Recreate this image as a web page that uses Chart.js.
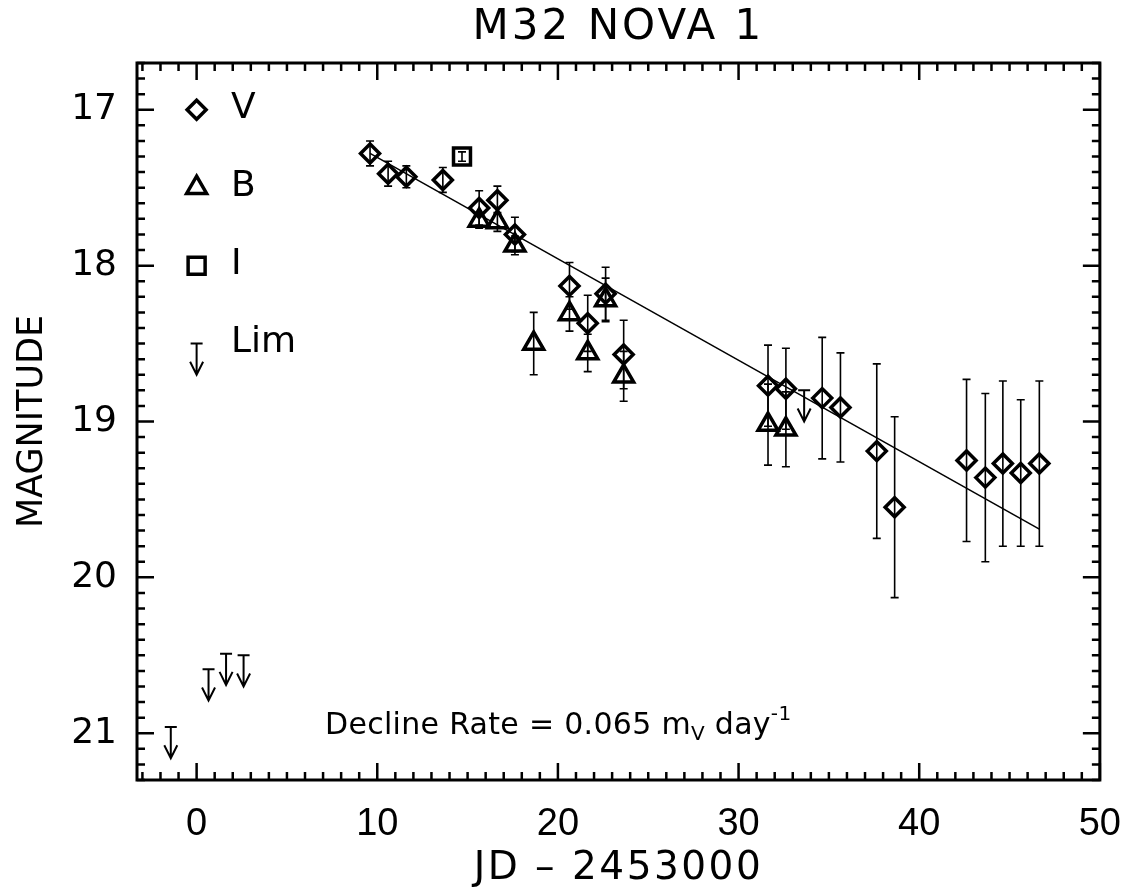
<!DOCTYPE html>
<html>
<head>
<meta charset="utf-8">
<title>M32 NOVA 1</title>
<script src="https://cdn.jsdelivr.net/npm/chart.js@4.4.1/dist/chart.umd.min.js"></script>
<style>
  html, body { margin: 0; padding: 0; background: #fff; }
</style>
</head>
<body>
<canvas id="chart" width="1143" height="894"></canvas>
<script>
// light curve values (JD - 2453000, magnitude, 1-sigma)
const vDays = [9.60, 10.60, 11.61, 13.63, 15.64, 16.65, 17.62, 20.64, 21.65, 22.64, 23.64,
               31.63, 32.62, 34.63, 35.64, 37.65, 38.64, 42.62, 43.66, 44.63, 45.62, 46.65];
const vMag  = [17.28, 17.41, 17.43, 17.45, 17.63, 17.58, 17.80, 18.13, 18.37, 18.18, 18.57,
               18.77, 18.79, 18.85, 18.91, 19.19, 19.55, 19.25, 19.36, 19.27, 19.33, 19.27];
const vErr  = [0.08, 0.08, 0.07, 0.08, 0.11, 0.09, 0.11, 0.15, 0.18, 0.17, 0.22,
               0.26, 0.26, 0.39, 0.35, 0.56, 0.58, 0.52, 0.54, 0.53, 0.47, 0.53];

const bDays = [15.64, 16.65, 17.62, 18.66, 20.64, 21.65, 22.64, 23.64, 31.63, 32.62];
const bMag  = [17.71, 17.72, 17.87, 18.50, 18.31, 18.56, 18.22, 18.71, 19.02, 19.05];
const bErr  = [0.05, 0.06, 0.06, 0.20, 0.11, 0.12, 0.14, 0.16, 0.26, 0.24];

const iDays = [14.69];
const iMag  = [17.30];
const iErr  = [0.03];

// upper limits (fainter than)
const limDays = [-1.43, 0.66, 1.63, 2.60, 33.63];
const limMag  = [20.96, 20.59, 20.49, 20.50, 18.80];

// linear fit, 0.065 mag/day
const fitDays = [9.60, 46.65];
const fitMag  = [17.28, 19.69];

const xTicks = [0, 10, 20, 30, 40, 50];
const yTicks = [17, 18, 19, 20, 21];
const legendLabels = ['V', 'B', 'I', 'Lim'];

const FONT = '"DejaVu Sans", sans-serif';
const LIM_LEN = 0.2;

const pts = (xs, ys) => xs.map((x, i) => ({ x, y: ys[i] }));

function diamond(ctx, x, y, r) {
    ctx.beginPath();
    ctx.moveTo(x, y - r); ctx.lineTo(x + r, y); ctx.lineTo(x, y + r); ctx.lineTo(x - r, y);
    ctx.closePath(); ctx.stroke();
}
function triangle(ctx, x, y, r) {
    const h = r * Math.sqrt(3) / 2;
    ctx.beginPath();
    ctx.moveTo(x, y - r); ctx.lineTo(x + h, y + r / 2); ctx.lineTo(x - h, y + r / 2);
    ctx.closePath(); ctx.stroke();
}
function square(ctx, x, y, r) {
    ctx.beginPath(); ctx.rect(x - r, y - r, 2 * r, 2 * r); ctx.stroke();
}
function arrow(ctx, chart, xv, yv) {
    const x = chart.scales.x.getPixelForValue(xv);
    const y0 = chart.scales.y.getPixelForValue(yv);
    const y1 = chart.scales.y.getPixelForValue(yv + LIM_LEN);
    ctx.beginPath();
    ctx.moveTo(x - 6, y0); ctx.lineTo(x + 6, y0);
    ctx.moveTo(x, y0); ctx.lineTo(x, y1);
    ctx.moveTo(x - 6.5, y1 - 13); ctx.lineTo(x, y1); ctx.lineTo(x + 6.5, y1 - 13);
    ctx.stroke();
}

const errorBars = {
    id: 'errorBars',
    beforeDatasetsDraw(chart) {
        const { ctx, scales: { x, y } } = chart;
        ctx.save();
        ctx.strokeStyle = '#000';
        ctx.lineWidth = 1.6;
        chart.data.datasets.forEach(ds => {
            if (!ds.errors) return;
            ds.data.forEach((p, j) => {
                const px = x.getPixelForValue(p.x);
                const t = y.getPixelForValue(p.y - ds.errors[j]);
                const b = y.getPixelForValue(p.y + ds.errors[j]);
                ctx.beginPath();
                ctx.moveTo(px, t); ctx.lineTo(px, b);
                ctx.moveTo(px - 4, t); ctx.lineTo(px + 4, t);
                ctx.moveTo(px - 4, b); ctx.lineTo(px + 4, b);
                ctx.stroke();
            });
        });
        ctx.restore();
    },
    afterDatasetsDraw(chart) {
        const ctx = chart.ctx;
        ctx.save();
        ctx.strokeStyle = '#000';
        ctx.lineWidth = 2;
        limDays.forEach((d, i) => arrow(ctx, chart, d, limMag[i]));
        ctx.restore();
    }
};

const frame = {
    id: 'frame',
    afterDraw(chart) {
        const { ctx, chartArea: a, scales: { x, y } } = chart;
        ctx.save();
        ctx.strokeStyle = '#000';
        ctx.lineWidth = 2.5;
        ctx.beginPath();
        for (let v = Math.ceil(x.min); v <= x.max; v++) {
            const len = v % 10 === 0 ? 17 : 8;
            const px = x.getPixelForValue(v);
            ctx.moveTo(px, a.bottom); ctx.lineTo(px, a.bottom - len);
            ctx.moveTo(px, a.top); ctx.lineTo(px, a.top + len);
        }
        for (let k = Math.ceil(y.min * 10 - 1e-6); k <= y.max * 10 + 1e-6; k++) {
            const len = k % 10 === 0 ? 17 : 8;
            const py = y.getPixelForValue(k / 10);
            ctx.moveTo(a.left, py); ctx.lineTo(a.left + len, py);
            ctx.moveTo(a.right, py); ctx.lineTo(a.right - len, py);
        }
        ctx.stroke();
        ctx.lineWidth = 3;
        ctx.strokeRect(a.left, a.top, a.right - a.left, a.bottom - a.top);
        ctx.restore();
    }
};

const texts = {
    id: 'texts',
    afterDraw(chart) {
        const { ctx, chartArea: a, scales: { x, y } } = chart;
        const cx = (a.left + a.right) / 2;
        ctx.save();
        ctx.fillStyle = '#000';
        ctx.textBaseline = 'alphabetic';

        // title
        ctx.font = `42px ${FONT}`;
        ctx.letterSpacing = '3px';
        ctx.textAlign = 'center';
        ctx.fillText('M32 NOVA 1', cx, 39);

        // x axis title
        ctx.font = `39px ${FONT}`;
        ctx.letterSpacing = '2.5px';
        ctx.fillText('JD \u2013 2453000', cx, 879);

        // y axis title
        ctx.save();
        ctx.translate(42, (a.top + a.bottom) / 2);
        ctx.rotate(-Math.PI / 2);
        ctx.font = `35px ${FONT}`;
        ctx.letterSpacing = '0px';
        ctx.fillText('MAGNITUDE', 0, 0);
        ctx.restore();

        // legend
        ctx.strokeStyle = '#000';
        const lx = x.getPixelForValue(0);
        legendLabels.forEach((lab, i) => {
            const mag = yTicks[0] + 0.5 * i;
            const ly = y.getPixelForValue(mag);
            ctx.lineWidth = 3.5;
            if (lab === 'V') diamond(ctx, lx, ly, 9.5);
            if (lab === 'B') triangle(ctx, lx, ly, 11.5);
            if (lab === 'I') square(ctx, lx, ly, 8.5);
            if (lab === 'Lim') { ctx.lineWidth = 2; arrow(ctx, chart, 0, mag); }
            ctx.font = `36px ${FONT}`;
            ctx.letterSpacing = '0px';
            ctx.textAlign = 'left';
            ctx.fillText(lab, x.getPixelForValue(1.9), ly + 8);
        });

        // decline rate note
        let tx = 325;
        const base = 734;
        ctx.textAlign = 'left';
        ctx.letterSpacing = '0.3px';
        const part = (s, size, dy) => {
            ctx.font = `${size}px ${FONT}`;
            ctx.fillText(s, tx, base + dy);
            tx += ctx.measureText(s).width;
        };
        part('Decline Rate = 0.065 m', 30, 0);
        part('V', 20, 6);
        part(' day', 30, 0);
        part('-1', 20, -14);
        ctx.restore();
    }
};

new Chart(document.getElementById('chart'), {
    type: 'scatter',
    data: {
        datasets: [
            {
                label: 'fit', type: 'line', data: pts(fitDays, fitMag),
                borderColor: '#000', borderWidth: 1.5, pointRadius: 0, fill: false
            },
            {
                label: 'V', data: pts(vDays, vMag), errors: vErr,
                pointStyle: 'rectRot', pointRadius: 9.5, borderWidth: 3.5,
                borderColor: '#000', backgroundColor: 'rgba(0,0,0,0)'
            },
            {
                label: 'B', data: pts(bDays, bMag), errors: bErr,
                pointStyle: 'triangle', pointRadius: 11.5, borderWidth: 3.5,
                borderColor: '#000', backgroundColor: 'rgba(0,0,0,0)'
            },
            {
                label: 'I', data: pts(iDays, iMag), errors: iErr,
                pointStyle: 'rect', pointRadius: 12, borderWidth: 3.5,
                borderColor: '#000', backgroundColor: 'rgba(0,0,0,0)'
            },
            {
                label: 'Lim', data: pts(limDays, limMag), pointRadius: 0
            }
        ]
    },
    options: {
        responsive: false,
        animation: false,
        events: [],
        layout: { padding: { top: 63, right: 36, left: 0, bottom: 0 } },
        plugins: { legend: { display: false }, tooltip: { enabled: false } },
        scales: {
            x: {
                type: 'linear', min: -3.3, max: 50,
                afterBuildTicks: s => { s.ticks = xTicks.map(v => ({ value: v })); },
                afterFit: s => { s.height = 114; },
                grid: { display: false, drawTicks: false },
                border: { display: false },
                ticks: {
                    maxRotation: 0, autoSkip: false, padding: 22, color: '#000',
                    font: { family: '"Liberation Sans", sans-serif', size: 38 }
                }
            },
            y: {
                type: 'linear', reverse: true, min: 16.7, max: 21.3,
                afterBuildTicks: s => { s.ticks = yTicks.map(v => ({ value: v })); },
                afterFit: s => { s.width = 137; },
                grid: { display: false, drawTicks: false },
                border: { display: false },
                ticks: {
                    padding: 20, color: '#000',
                    font: { family: FONT, size: 36 }
                }
            }
        }
    },
    plugins: [errorBars, frame, texts]
});
</script>
</body>
</html>
